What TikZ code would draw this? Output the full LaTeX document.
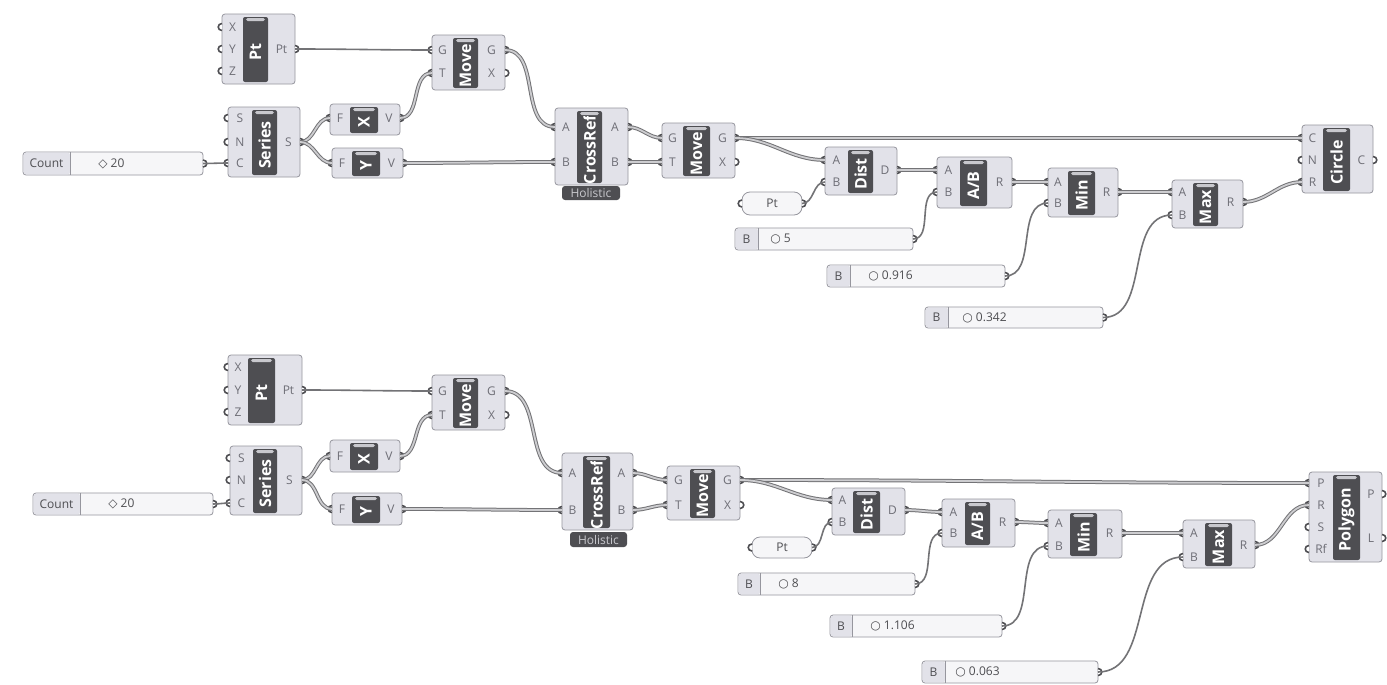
\documentclass[tikz,border=0pt]{standalone}
\usepackage{fontspec}
\setmainfont{Open Sans}
\newfontfamily\symfont{DejaVu Sans}
\usetikzlibrary{fit}

\definecolor{ghbody}{RGB}{226,226,233}
\definecolor{ghedge}{RGB}{150,150,158}
\definecolor{ghbar}{RGB}{78,78,82}
\definecolor{ghtab}{RGB}{200,200,205}
\definecolor{ghtext}{RGB}{110,110,118}
\definecolor{ghwire}{RGB}{115,115,118}
\definecolor{ghwirein}{RGB}{205,205,208}
\definecolor{ghpanel}{RGB}{246,246,248}

\newcommand{\numdot}{{\symfont\bfseries ○}}
\newcommand{\intdot}{{\symfont\bfseries ◇}}

% component: name, left, top, right, bottom, bar left, bar right, title
\newcommand{\ghcomp}[8]{%
  \xdef\cleft{#2}\xdef\cright{#4}\xdef\cbarl{#6}\xdef\cbarr{#7}%
  \pgfmathsetmacro\midy{(#3+8+#5-2)/2}%
  \node[compbody, fit={(#2,#3) (#4,#5)}] (#1) {};
  \node[compbar, fit={(#6,#3+3) (#7,#5-2)}] (#1-bar) {};
  \fill[ghtab, rounded corners=0.8pt] (#6+3,#3+4) rectangle (#7-3,#3+7);
  \begin{scope}
    \clip (#6,#3+8) rectangle (#7,#5-2);
    \node[bartitle] (#1-title) at ({(#6+#7)/2},\midy) {#8};
  \end{scope}
}
% input and output ports of the last component: name, label, y
\newcommand{\ghin}[3]{%
  \coordinate (#1) at (\cleft,#3);
  \node[portlabel] (#1-lbl) at ({(\cleft+\cbarl)/2},#3) {#2};
  \draw[grip] (\cleft,#3-3.5) .. controls (\cleft-5,#3-3.5) and (\cleft-5,#3+3.5) .. (\cleft,#3+3.5);
}
\newcommand{\ghout}[3]{%
  \coordinate (#1) at (\cright,#3);
  \node[portlabel] (#1-lbl) at ({(\cbarr+\cright)/2},#3) {#2};
  \draw[grip] (\cright,#3-3.5) .. controls (\cright+5,#3-3.5) and (\cright+5,#3+3.5) .. (\cright,#3+3.5);
}
% slider: name, left, top, right, bottom, split, label, value x, value
\newcommand{\ghslider}[9]{%
  \pgfmathsetmacro\midy{(#3+#5)/2}%
  \node[panel, fit={(#2,#3) (#4,#5)}] (#1) {};
  \fill[ghbody, rounded corners=1.2pt] (#2+0.7,#3+0.7) rectangle (#6,#5-0.7);
  \draw[ghedge, line width=0.4pt] (#6,#3) -- (#6,#5);
  \node[sliderlabel] (#1-lbl) at ({(#2+#6)/2},\midy) {#7};
  \node[slidervalue] (#1-val) at (#8,\midy) {#9};
  \coordinate (#1-out) at (#4,\midy);
  \draw[grip] (#4,\midy-3.5) .. controls (#4+5,\midy-3.5) and (#4+5,\midy+3.5) .. (#4,\midy+3.5);
}
% floating parameter: name, left, top, right, bottom, text
\newcommand{\ghparam}[6]{%
  \pgfmathsetmacro\midy{(#3+#5)/2}%
  \node[param, fit={(#2,#3) (#4,#5)}] (#1) {};
  \node[sliderlabel] (#1-txt) at (#1.center) {#6};
  \coordinate (#1-in) at (#2,\midy);
  \coordinate (#1-out) at (#4,\midy);
  \draw[grip] (#2,\midy-3.5) .. controls (#2-5,\midy-3.5) and (#2-5,\midy+3.5) .. (#2,\midy+3.5);
  \draw[grip] (#4,\midy-3.5) .. controls (#4+5,\midy-3.5) and (#4+5,\midy+3.5) .. (#4,\midy+3.5);
}
% tag under a component: name, left, top, right, bottom, text
\newcommand{\ghtag}[6]{%
  \node[comptag, fit={(#2,#3) (#4,#5)}] (#1) {};
  \node[tagtext] (#1-txt) at (#1.center) {#6};
}

\begin{document}
\begin{tikzpicture}[x=0.5pt, y=-0.5pt,
  compbody/.style={draw=ghedge, fill=ghbody, line width=0.4pt, rounded corners=1.5pt, inner sep=0pt},
  compbar/.style={fill=ghbar, rounded corners=1pt, inner sep=0pt},
  bartitle/.style={text=white, font=\fontsize{8}{8}\selectfont\bfseries, rotate=90, inner sep=0pt},
  portlabel/.style={text=ghtext, font=\fontsize{6}{6}\selectfont, inner sep=0pt},
  grip/.style={draw=ghbar, fill=white, line width=0.8pt},
  panel/.style={draw=ghedge, fill=ghpanel, line width=0.4pt, rounded corners=1.5pt, inner sep=0pt},
  param/.style={draw=ghedge, fill=ghpanel, line width=0.4pt, rounded corners=4pt, inner sep=0pt},
  sliderlabel/.style={text=ghbar, font=\fontsize{6}{6}\selectfont, inner sep=0pt},
  slidervalue/.style={text=ghbar, font=\fontsize{6}{6}\selectfont, anchor=west, inner sep=0pt},
  comptag/.style={fill=ghbar, rounded corners=1.5pt, inner sep=0pt},
  tagtext/.style={text=ghtab, font=\fontsize{6}{6}\selectfont, inner sep=0pt},
  wire/.style={draw=ghwire, line width=0.8pt},
  listwire/.style={draw=ghwire, double=ghwirein, double distance=0.9pt, line width=0.5pt}]

\fill[white] (0,0) rectangle (1387,685);
\useasboundingbox (0,0) rectangle (1387,685);

% circle row
\ghcomp{pta}{222}{14}{295}{84}{243}{268}{Pt}
\foreach \p/\y in {X/27,Y/49,Z/71} {\ghin{pta-i\p}{\p}{\y}}
\ghout{pta-oPt}{Pt}{49}

\ghcomp{sera}{228}{107}{300}{177}{252}{277}{Series}
\foreach \p/\y in {S/118,N/142,C/163} {\ghin{sera-i\p}{\p}{\y}}
\ghout{sera-oS}{S}{142}

\ghslider{cnta}{23}{152}{203}{175}{70}{Count}{98}{\intdot\ 20}

\ghcomp{uxa}{330}{104}{400}{135}{350}{378}{X}
\ghin{uxa-iF}{F}{118} \ghout{uxa-oV}{V}{118}
\ghcomp{uya}{332}{148}{403}{178}{352}{380}{Y}
\ghin{uya-iF}{F}{163} \ghout{uya-oV}{V}{163}

\ghcomp{mva}{432}{35}{505}{90}{453}{478}{Move}
\foreach \p/\y in {G/50,T/73} {\ghin{mva-i\p}{\p}{\y}}
\foreach \p/\y in {G/50,X/73} {\ghout{mva-o\p}{\p}{\y}}

\ghcomp{cra}{555}{108}{628}{185}{577}{602}{CrossRef}
\foreach \p/\y in {A/127,B/162} {\ghin{cra-i\p}{\p}{\y} \ghout{cra-o\p}{\p}{\y}}
\ghtag{cra-tag}{562}{186}{620}{200}{Holistic}

\ghcomp{mvb}{662}{123}{735}{178}{683}{710}{Move}
\foreach \p/\y in {G/138,T/162} {\ghin{mvb-i\p}{\p}{\y}}
\foreach \p/\y in {G/138,X/162} {\ghout{mvb-o\p}{\p}{\y}}

\ghparam{pa}{742}{192}{802}{215}{Pt}

\ghcomp{dsa}{825}{147}{897}{195}{848}{873}{Dist}
\foreach \p/\y in {A/160,B/182} {\ghin{dsa-i\p}{\p}{\y}}
\ghout{dsa-oD}{D}{170}

\ghslider{sla}{735}{228}{913}{250}{758}{B}{770}{\numdot\ 5}

\ghcomp{dva}{937}{157}{1012}{208}{960}{987}{A/B}
\foreach \p/\y in {A/170,B/192} {\ghin{dva-i\p}{\p}{\y}}
\ghout{dva-oR}{R}{182}

\ghslider{slb}{827}{265}{1005}{287}{850}{B}{868}{\numdot\ 0.916}

\ghcomp{mna}{1048}{168}{1118}{217}{1068}{1095}{Min}
\foreach \p/\y in {A/182,B/203} {\ghin{mna-i\p}{\p}{\y}}
\ghout{mna-oR}{R}{192}

\ghslider{slc}{925}{307}{1103}{328}{948}{B}{962}{\numdot\ 0.342}

\ghcomp{mxa}{1172}{180}{1243}{228}{1193}{1218}{Max}
\foreach \p/\y in {A/192,B/215} {\ghin{mxa-i\p}{\p}{\y}}
\ghout{mxa-oR}{R}{202}

\ghcomp{cia}{1302}{125}{1373}{193}{1323}{1350}{Circle}
\foreach \p/\y in {C/138,N/160,R/182} {\ghin{cia-i\p}{\p}{\y}}
\ghout{cia-oC}{C}{160}

% polygon row
\ghcomp{ptb}{228}{355}{302}{425}{248}{275}{Pt}
\foreach \p/\y in {X/367,Y/390,Z/412} {\ghin{ptb-i\p}{\p}{\y}}
\ghout{ptb-oPt}{Pt}{390}

\ghcomp{serb}{230}{446}{302}{515}{253}{277}{Series}
\foreach \p/\y in {S/458,N/480,C/503} {\ghin{serb-i\p}{\p}{\y}}
\ghout{serb-oS}{S}{480}

\ghslider{cntb}{33}{493}{213}{515}{80}{Count}{108}{\intdot\ 20}

\ghcomp{uxb}{330}{440}{400}{472}{350}{378}{X}
\ghin{uxb-iF}{F}{456} \ghout{uxb-oV}{V}{456}
\ghcomp{uyb}{332}{493}{402}{525}{352}{380}{Y}
\ghin{uyb-iF}{F}{509} \ghout{uyb-oV}{V}{509}

\ghcomp{mvc}{432}{375}{505}{430}{453}{478}{Move}
\foreach \p/\y in {G/391,T/415} {\ghin{mvc-i\p}{\p}{\y}}
\foreach \p/\y in {G/391,X/415} {\ghout{mvc-o\p}{\p}{\y}}

\ghcomp{crb}{562}{453}{633}{530}{583}{610}{CrossRef}
\foreach \p/\y in {A/473,B/510} {\ghin{crb-i\p}{\p}{\y} \ghout{crb-o\p}{\p}{\y}}
\ghtag{crb-tag}{570}{532}{627}{547}{Holistic}

\ghcomp{mvd}{667}{466}{740}{520}{690}{715}{Move}
\foreach \p/\y in {G/480,T/505} {\ghin{mvd-i\p}{\p}{\y}}
\foreach \p/\y in {G/480,X/505} {\ghout{mvd-o\p}{\p}{\y}}

\ghparam{pb}{752}{537}{812}{558}{Pt}

\ghcomp{dsb}{832}{488}{905}{535}{853}{880}{Dist}
\foreach \p/\y in {A/500,B/522} {\ghin{dsb-i\p}{\p}{\y}}
\ghout{dsb-oD}{D}{510}

\ghslider{sld}{738}{573}{915}{595}{760}{B}{778}{\numdot\ 8}

\ghcomp{dvb}{942}{499}{1015}{547}{965}{990}{A/B}
\foreach \p/\y in {A/512,B/533} {\ghin{dvb-i\p}{\p}{\y}}
\ghout{dvb-oR}{R}{522}

\ghslider{sle}{830}{615}{1002}{637}{852}{B}{870}{\numdot\ 1.106}

\ghcomp{mnb}{1048}{510}{1122}{558}{1070}{1097}{Min}
\foreach \p/\y in {A/523,B/546} {\ghin{mnb-i\p}{\p}{\y}}
\ghout{mnb-oR}{R}{533}

\ghslider{slf}{922}{661}{1098}{683}{945}{B}{955}{\numdot\ 0.063}

\ghcomp{mxb}{1183}{520}{1255}{568}{1205}{1232}{Max}
\foreach \p/\y in {A/533,B/557} {\ghin{mxb-i\p}{\p}{\y}}
\ghout{mxb-oR}{R}{545}

\ghcomp{pgb}{1309}{472}{1382}{562}{1333}{1360}{Polygon}
\foreach \p/\y in {P/483,R/505,S/527,Rf/549} {\ghin{pgb-i\p}{\p}{\y}}
\foreach \p/\y in {P/494,L/538} {\ghout{pgb-o\p}{\p}{\y}}

% wires, circle row
\draw[wire] (pta-oPt) to[out=0,in=180] (mva-iG);
\draw[wire] (cnta-out) to[out=0,in=180] (sera-iC);
\draw[listwire] (sera-oS) to[out=0,in=180] (uxa-iF);
\draw[listwire] (sera-oS) to[out=0,in=180] (uya-iF);
\draw[listwire] (uxa-oV) to[out=0,in=180] (mva-iT);
\draw[listwire] (mva-oG) to[out=0,in=180] (cra-iA);
\draw[listwire] (uya-oV) to[out=0,in=180] (cra-iB);
\draw[listwire] (cra-oA) to[out=0,in=180] (mvb-iG);
\draw[listwire] (cra-oB) to[out=0,in=180] (mvb-iT);
\draw[listwire] (mvb-oG) to[out=0,in=180] (cia-iC);
\draw[listwire] (mvb-oG) to[out=0,in=180] (dsa-iA);
\draw[wire] (pa-out) to[out=0,in=180] (dsa-iB);
\draw[listwire] (dsa-oD) to[out=0,in=180] (dva-iA);
\draw[wire] (sla-out) to[out=0,in=180] (dva-iB);
\draw[listwire] (dva-oR) to[out=0,in=180] (mna-iA);
\draw[wire] (slb-out) to[out=0,in=180] (mna-iB);
\draw[listwire] (mna-oR) to[out=0,in=180] (mxa-iA);
\draw[wire] (slc-out) to[out=0,in=180] (mxa-iB);
\draw[listwire] (mxa-oR) to[out=0,in=180] (cia-iR);

% wires, polygon row
\draw[wire] (ptb-oPt) to[out=0,in=180] (mvc-iG);
\draw[wire] (cntb-out) to[out=0,in=180] (serb-iC);
\draw[listwire] (serb-oS) to[out=0,in=180] (uxb-iF);
\draw[listwire] (serb-oS) to[out=0,in=180] (uyb-iF);
\draw[listwire] (uxb-oV) to[out=0,in=180] (mvc-iT);
\draw[listwire] (mvc-oG) to[out=0,in=180] (crb-iA);
\draw[listwire] (uyb-oV) to[out=0,in=180] (crb-iB);
\draw[listwire] (crb-oA) to[out=0,in=180] (mvd-iG);
\draw[listwire] (crb-oB) to[out=0,in=180] (mvd-iT);
\draw[listwire] (mvd-oG) to[out=0,in=180] (pgb-iP);
\draw[listwire] (mvd-oG) to[out=0,in=180] (dsb-iA);
\draw[wire] (pb-out) to[out=0,in=180] (dsb-iB);
\draw[listwire] (dsb-oD) to[out=0,in=180] (dvb-iA);
\draw[wire] (sld-out) to[out=0,in=180] (dvb-iB);
\draw[listwire] (dvb-oR) to[out=0,in=180] (mnb-iA);
\draw[wire] (sle-out) to[out=0,in=180] (mnb-iB);
\draw[listwire] (mnb-oR) to[out=0,in=180] (mxb-iA);
\draw[wire] (slf-out) to[out=0,in=180] (mxb-iB);
\draw[listwire] (mxb-oR) to[out=0,in=180] (pgb-iR);

\end{tikzpicture}
\end{document}
